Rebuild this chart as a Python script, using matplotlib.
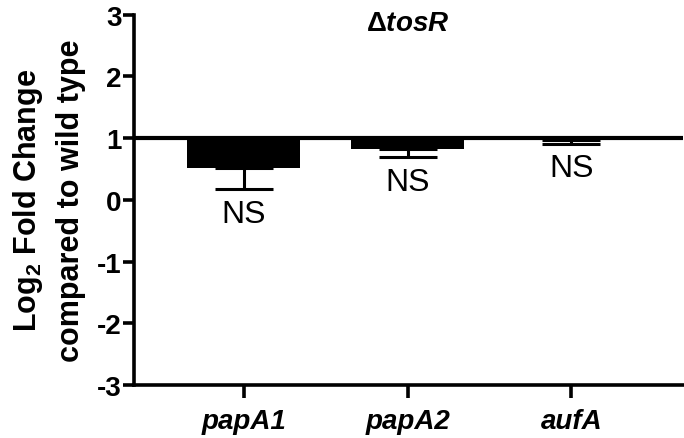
import numpy as np
import matplotlib
matplotlib.use("Agg")
import matplotlib.pyplot as plt

plt.rcParams['font.family'] = ['Liberation Sans', 'DejaVu Sans']
plt.rcParams['mathtext.fontset'] = 'custom'
plt.rcParams['mathtext.rm'] = 'Liberation Sans:bold'
plt.rcParams['mathtext.it'] = 'Liberation Sans:italic:bold'
plt.rcParams['mathtext.bf'] = 'Liberation Sans:bold'
plt.rcParams['axes.unicode_minus'] = False

genes = ['papA1', 'papA2', 'aufA']
fold_change = [0.51, 0.82, 0.97]
err_low = [0.34, 0.13, 0.06]
sig_labels = ['NS', 'NS', 'NS']
baseline = 1.0

fig = plt.figure(figsize=(6.84, 4.39), dpi=100)
ax = fig.add_axes([0.196, 0.121, 0.802, 0.843])

x = np.arange(len(genes))
heights = np.array(fold_change) - baseline
ax.bar(x, heights, bottom=baseline, width=0.69, color='black', zorder=2)
# one-sided (downward) error bars
ax.errorbar(x, fold_change, yerr=[err_low, [0, 0, 0]], fmt='none', ecolor='black',
            elinewidth=2.2, capsize=21, capthick=2.2, zorder=3)
ax.axhline(baseline, color='black', lw=3, zorder=4)

for xi, v, e, s in zip(x, fold_change, err_low, sig_labels):
    ax.text(xi, v - e - 0.15, s, ha='center', va='top', fontsize=23)

ax.set_xlim(-0.67, 2.68)
ax.set_ylim(-3, 3)
ax.set_yticks([-3, -2, -1, 0, 1, 2, 3])
ax.set_xticks(x)
ax.set_xticklabels(genes, fontsize=20, fontweight='bold', fontstyle='italic')
ax.tick_params(axis='y', labelsize=20, width=2.6, length=8, pad=1)
ax.tick_params(axis='x', width=2.6, length=9, pad=8)
for lab in ax.get_yticklabels():
    lab.set_fontweight('bold')

ax.spines['top'].set_visible(False)
ax.spines['right'].set_visible(False)
ax.spines['left'].set_linewidth(2.6)
ax.spines['bottom'].set_linewidth(2.6)

ax.set_ylabel('Log$_{\\mathbf{2}}$ Fold Change\ncompared to wild type', fontsize=22,
              fontweight='bold', labelpad=8, linespacing=1.45)
ax.text(1, 2.86, r'$\mathrm{\Delta}\mathit{tosR}$', ha='center', va='center', fontsize=20)

fig.savefig('out.png', dpi=100)
